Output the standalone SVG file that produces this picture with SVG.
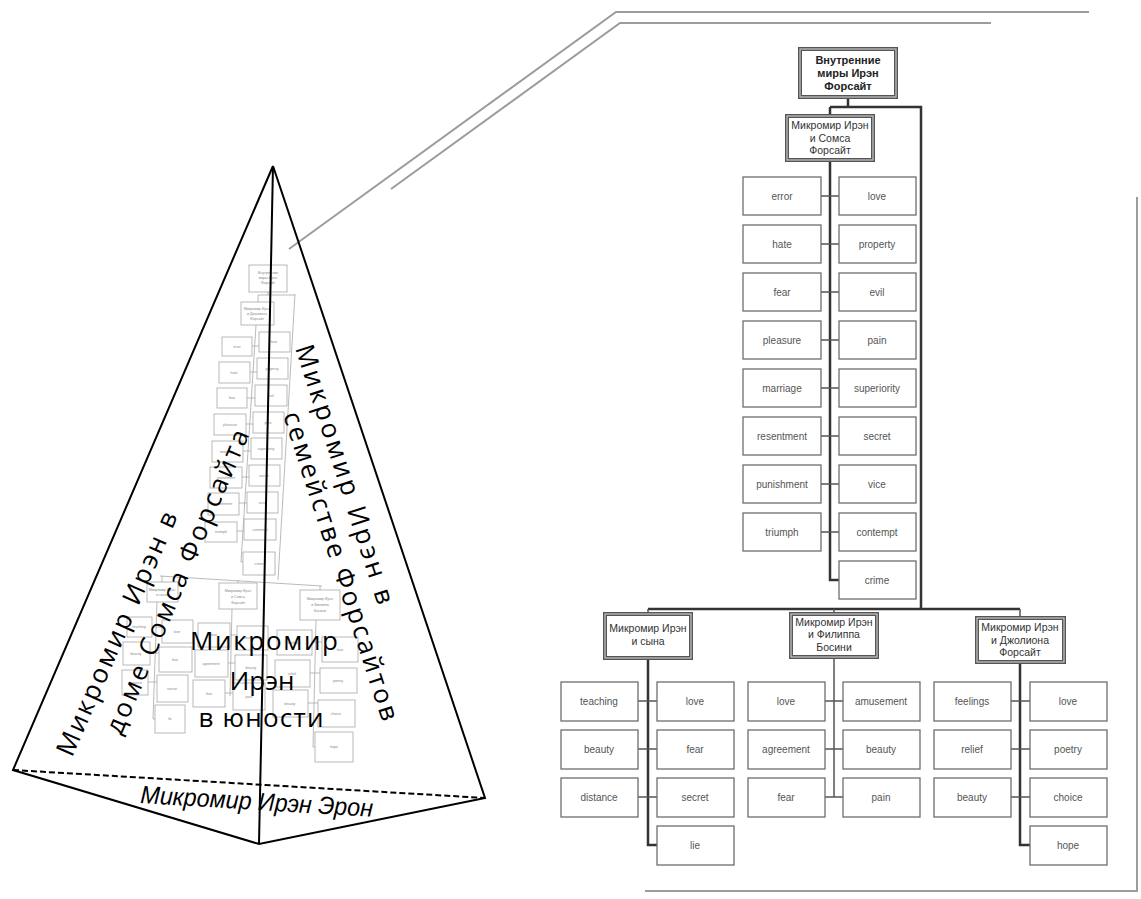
<svg xmlns="http://www.w3.org/2000/svg" width="1141" height="899" viewBox="0 0 1141 899">
<style>
.leaf rect{fill:#fff;stroke:#6e6e6e;stroke-width:1.3}
.leaf text{font-family:"Liberation Sans",Arial,sans-serif;font-size:10px;fill:#555;text-anchor:middle}
.hdr .o{fill:#fff;stroke:#555;stroke-width:4}
.hdr .i{fill:none;stroke:#c8c8c8;stroke-width:1.2}
.hdr text{font-family:"Liberation Sans",Arial,sans-serif;font-size:10.5px;fill:#333;text-anchor:middle}
.root text{font-weight:bold;font-size:11px;fill:#222}
.conn{fill:none;stroke:#555;stroke-width:1.5}
.trunk{fill:none;stroke:#333;stroke-width:2.5}
.guide{fill:none;stroke:#9c9c9c;stroke-width:2}
.edge{fill:none;stroke:#000;stroke-width:2}
.mini rect{fill:#fff;stroke:#a8a8a8;stroke-width:0.8}
.mini text{font-family:"Liberation Sans",Arial,sans-serif;font-size:3.6px;fill:#888;text-anchor:middle}
.minic{fill:none;stroke:#a8a8a8;stroke-width:0.8}
.pt{font-family:"Open Sans","Noto Sans",sans-serif;font-size:26px;fill:#000}
</style>
<rect width="1141" height="899" fill="#fff"/>

<!-- guide lines -->
<g id="guides">
<polyline class="guide" points="289,249 616,12 1089,12"/>
<polyline class="guide" points="391,189 620,23 991,23"/>
<polyline class="guide" points="1137,197 1137,891 645,891"/>
</g>

<!-- miniature tree inside pyramid -->
<g id="mini-tree" class="mini">
<g class="minic">
<path d="M268,292V295M258,295H295M258,295V302M256,325L241,562H243M295,294L278,580"/>
<path d="M252,346H259M250,372H257M247,398H255M246,424H253M243,451H251M242,477H249M239,503H247M237,531H244"/>
<path d="M160,576L322,586M162,576V582M238,580V583M320,586V590"/>
<path d="M157,602L153,719H155M152,627H162M150,653H159M148,682H157"/>
<path d="M232,609L230,696M230,635H237M228,663H235M225,693H233"/>
<path d="M316,620L313,747H315M312,642H322M310,673H320M308,703H318"/>
</g>
<g id="mini-root"><rect x="249" y="265" width="38" height="27"/><text x="268" y="274">Внутренние</text><text x="268" y="279">миры Ирэн</text><text x="268" y="284">Форсайт</text></g>
<g id="mini-sub"><rect x="241" y="302" width="33" height="23"/><text x="257" y="310">Микромир Ирэн</text><text x="257" y="315">и Джолиона</text><text x="257" y="320">Форсайт</text></g>
<g id="mini-l0"><rect x="222" y="337" width="30" height="19"/><text x="237" y="348">error</text></g>
<g id="mini-l1"><rect x="219" y="362" width="31" height="21"/><text x="234" y="374">hate</text></g>
<g id="mini-l2"><rect x="217" y="388" width="30" height="20"/><text x="232" y="399">fear</text></g>
<g id="mini-l3"><rect x="214" y="414" width="32" height="21"/><text x="230" y="426">pleasure</text></g>
<g id="mini-l4"><rect x="212" y="441" width="31" height="21"/><text x="227" y="453">marriage</text></g>
<g id="mini-l5"><rect x="210" y="467" width="32" height="21"/><text x="226" y="479">resentment</text></g>
<g id="mini-l6"><rect x="208" y="493" width="31" height="22"/><text x="223" y="505">punishment</text></g>
<g id="mini-l7"><rect x="205" y="522" width="32" height="20"/><text x="221" y="533">triumph</text></g>
<g id="mini-r0"><rect x="259" y="332" width="31" height="20"/><text x="274" y="343">love</text></g>
<g id="mini-r1"><rect x="257" y="358" width="31" height="21"/><text x="272" y="370">property</text></g>
<g id="mini-r2"><rect x="255" y="385" width="32" height="21"/><text x="271" y="397">evil</text></g>
<g id="mini-r3"><rect x="253" y="412" width="31" height="21"/><text x="268" y="424">pain</text></g>
<g id="mini-r4"><rect x="251" y="438" width="31" height="21"/><text x="266" y="450">superiority</text></g>
<g id="mini-r5"><rect x="249" y="465" width="31" height="21"/><text x="264" y="477">secret</text></g>
<g id="mini-r6"><rect x="247" y="492" width="31" height="21"/><text x="262" y="504">vice</text></g>
<g id="mini-r7"><rect x="244" y="519" width="32" height="21"/><text x="260" y="531">contempt</text></g>
<g id="mini-r8"><rect x="243" y="552" width="32" height="23"/><text x="259" y="565">crime</text></g>
<g id="mini-g1"><rect x="147" y="582" width="31" height="20"/><text x="162" y="591">Микромир Ирэн</text><text x="162" y="596">и сына</text></g>
<g id="mini-g2"><rect x="219" y="583" width="38" height="26"/><text x="238" y="592">Микромир Ирэн</text><text x="238" y="598">и Сомса</text><text x="238" y="604">Форсайт</text></g>
<g id="mini-g3"><rect x="300" y="590" width="40" height="30"/><text x="320" y="600">Микромир Ирэн</text><text x="320" y="606">и Филиппа</text><text x="320" y="612">Босини</text></g>
<g id="mini-g1a"><rect x="127" y="617" width="25" height="20"/><text x="139" y="628">teaching</text></g>
<g id="mini-g1b"><rect x="123" y="642" width="27" height="23"/><text x="136" y="655">beauty</text></g>
<g id="mini-g1c"><rect x="122" y="670" width="26" height="25"/><text x="135" y="684">distance</text></g>
<g id="mini-g1d"><rect x="162" y="620" width="31" height="23"/><text x="177" y="633">love</text></g>
<g id="mini-g1e"><rect x="159" y="647" width="33" height="25"/><text x="175" y="661">fear</text></g>
<g id="mini-g1f"><rect x="157" y="675" width="31" height="27"/><text x="172" y="690">secret</text></g>
<g id="mini-g1g"><rect x="155" y="705" width="30" height="28"/><text x="170" y="720">lie</text></g>
<g id="mini-g2a"><rect x="198" y="623" width="32" height="24"/><text x="214" y="636">love</text></g>
<g id="mini-g2b"><rect x="195" y="650" width="33" height="27"/><text x="211" y="665">agreement</text></g>
<g id="mini-g2c"><rect x="193" y="680" width="32" height="27"/><text x="209" y="695">fear</text></g>
<g id="mini-g2d"><rect x="237" y="626" width="31" height="24"/><text x="252" y="639">amusement</text></g>
<g id="mini-g2e"><rect x="235" y="655" width="32" height="25"/><text x="251" y="669">beauty</text></g>
<g id="mini-g2f"><rect x="233" y="683" width="32" height="27"/><text x="249" y="698">pain</text></g>
<g id="mini-g3a"><rect x="277" y="630" width="35" height="25"/><text x="294" y="644">feelings</text></g>
<g id="mini-g3b"><rect x="275" y="660" width="35" height="27"/><text x="292" y="675">relief</text></g>
<g id="mini-g3c"><rect x="273" y="690" width="35" height="27"/><text x="290" y="705">beauty</text></g>
<g id="mini-g3d"><rect x="322" y="637" width="36" height="25"/><text x="340" y="651">love</text></g>
<g id="mini-g3e"><rect x="320" y="668" width="37" height="25"/><text x="338" y="682">poetry</text></g>
<g id="mini-g3f"><rect x="318" y="700" width="37" height="27"/><text x="336" y="715">choice</text></g>
<g id="mini-g3g"><rect x="315" y="732" width="38" height="30"/><text x="334" y="748">hope</text></g>
</g>

<!-- pyramid -->
<g id="pyramid">
<path class="edge" d="M273,166L13,770L259,844L485,798L273,166"/>
<path class="edge" d="M273,166L259,844" stroke-width="2.6"/>
<path class="edge" d="M13,770L485,798" stroke-dasharray="6,3"/>
</g>
<g id="pyramid-labels">
<text class="pt" transform="translate(72,758) rotate(-66.3)" textLength="264">Микромир Ирэн в</text>
<text class="pt" transform="translate(121,736) rotate(-66.9)" textLength="328">доме Сомса Форсайта</text>
<text class="pt" transform="translate(295,348) rotate(72.2)" textLength="271">Микромир Ирэн в</text>
<text class="pt" transform="translate(283,415) rotate(72.1)" textLength="323">семействе Форсайтов</text>
<text class="pt" x="264" y="650" text-anchor="middle" textLength="148">Микромир</text>
<text class="pt" x="262" y="690" text-anchor="middle" textLength="65">Ирэн</text>
<text class="pt" x="261" y="727" text-anchor="middle" textLength="125">в юности</text>
<text transform="translate(140,803) rotate(3.4)" font-family="Liberation Sans, Arial, sans-serif" font-style="italic" font-size="25" textLength="233" lengthAdjust="spacingAndGlyphs">Микромир Ирэн Эрон</text>
</g>

<!-- connectors of the main tree -->
<g id="connectors">
<path class="trunk" d="M848,97V107M830,107H921V609M648,609H1020"/>
<path class="trunk" stroke-width="2" d="M830,107V116M830,160V580H839"/>
<path class="conn" d="M821,196H839M821,244H839M821,292H839M821,340H839M821,388H839M821,436H839M821,484H839M821,532H839"/>
<path class="conn" d="M648,609V614M834,609V614M1020,609V618"/>
<path class="trunk" stroke-width="2" d="M648,658V845H657"/>
<path class="conn" d="M834,657V797"/>
<path class="trunk" stroke-width="2" d="M1020,662V845H1030"/>
<path class="conn" d="M638,701H657M638,749H657M638,797H657M825,701H843M825,749H843M825,797H843M1011,701H1030M1011,749H1030M1011,797H1030"/>
</g>

<!-- main tree nodes -->
<g id="root" class="hdr root"><rect class="o" x="800" y="49" width="96" height="48"/><rect class="i" x="800" y="49" width="96" height="48"/><text x="848" y="64">Внутренние</text><text x="848" y="77">миры Ирэн</text><text x="848" y="90">Форсайт</text></g>
<g id="somsa" class="hdr"><rect class="o" x="787" y="116" width="86" height="44" stroke-width="3.5"/><rect class="i" x="787" y="116" width="86" height="44"/><text x="830" y="129">Микромир Ирэн</text><text x="830" y="142">и Сомса</text><text x="830" y="154">Форсайт</text></g>

<g id="n-error" class="leaf"><rect x="743" y="177" width="78" height="38"/><text x="782" y="200">error</text></g>
<g id="n-hate" class="leaf"><rect x="743" y="225" width="78" height="38"/><text x="782" y="248">hate</text></g>
<g id="n-fear" class="leaf"><rect x="743" y="273" width="78" height="38"/><text x="782" y="296">fear</text></g>
<g id="n-pleasure" class="leaf"><rect x="743" y="321" width="78" height="38"/><text x="782" y="344">pleasure</text></g>
<g id="n-marriage" class="leaf"><rect x="743" y="369" width="78" height="38"/><text x="782" y="392">marriage</text></g>
<g id="n-resentment" class="leaf"><rect x="743" y="417" width="78" height="38"/><text x="782" y="440">resentment</text></g>
<g id="n-punishment" class="leaf"><rect x="743" y="465" width="78" height="38"/><text x="782" y="488">punishment</text></g>
<g id="n-triumph" class="leaf"><rect x="743" y="513" width="78" height="38"/><text x="782" y="536">triumph</text></g>
<g id="n-love" class="leaf"><rect x="839" y="177" width="77" height="38"/><text x="877" y="200">love</text></g>
<g id="n-property" class="leaf"><rect x="839" y="225" width="77" height="38"/><text x="877" y="248">property</text></g>
<g id="n-evil" class="leaf"><rect x="839" y="273" width="77" height="38"/><text x="877" y="296">evil</text></g>
<g id="n-pain" class="leaf"><rect x="839" y="321" width="77" height="38"/><text x="877" y="344">pain</text></g>
<g id="n-superiority" class="leaf"><rect x="839" y="369" width="77" height="38"/><text x="877" y="392">superiority</text></g>
<g id="n-secret" class="leaf"><rect x="839" y="417" width="77" height="38"/><text x="877" y="440">secret</text></g>
<g id="n-vice" class="leaf"><rect x="839" y="465" width="77" height="38"/><text x="877" y="488">vice</text></g>
<g id="n-contempt" class="leaf"><rect x="839" y="513" width="77" height="38"/><text x="877" y="536">contempt</text></g>
<g id="n-crime" class="leaf"><rect x="839" y="561" width="77" height="38"/><text x="877" y="584">crime</text></g>

<g id="g-son" class="hdr"><rect class="o" x="605" y="614" width="86" height="44" stroke-width="3.5"/><rect class="i" x="605" y="614" width="86" height="44"/><text x="648" y="632">Микромир Ирэн</text><text x="648" y="645">и сына</text></g>
<g id="g-bosinney" class="hdr"><rect class="o" x="791" y="614" width="86" height="43" stroke-width="3.5"/><rect class="i" x="791" y="614" width="86" height="43"/><text x="834" y="626">Микромир Ирэн</text><text x="834" y="638">и Филиппа</text><text x="834" y="651">Босини</text></g>
<g id="g-jolyon" class="hdr"><rect class="o" x="977" y="618" width="87" height="44" stroke-width="3.5"/><rect class="i" x="977" y="618" width="87" height="44"/><text x="1020" y="631">Микромир Ирэн</text><text x="1020" y="644">и Джолиона</text><text x="1020" y="656">Форсайт</text></g>

<g id="s-teaching" class="leaf"><rect x="561" y="682" width="77" height="39"/><text x="599" y="705">teaching</text></g>
<g id="s-beauty" class="leaf"><rect x="561" y="730" width="77" height="39"/><text x="599" y="753">beauty</text></g>
<g id="s-distance" class="leaf"><rect x="561" y="778" width="77" height="39"/><text x="599" y="801">distance</text></g>
<g id="s-love" class="leaf"><rect x="657" y="682" width="77" height="39"/><text x="695" y="705">love</text></g>
<g id="s-fear" class="leaf"><rect x="657" y="730" width="77" height="39"/><text x="695" y="753">fear</text></g>
<g id="s-secret" class="leaf"><rect x="657" y="778" width="77" height="39"/><text x="695" y="801">secret</text></g>
<g id="s-lie" class="leaf"><rect x="657" y="826" width="77" height="39"/><text x="695" y="849">lie</text></g>

<g id="b-love" class="leaf"><rect x="748" y="682" width="77" height="39"/><text x="786" y="705">love</text></g>
<g id="b-agreement" class="leaf"><rect x="748" y="730" width="77" height="39"/><text x="786" y="753">agreement</text></g>
<g id="b-fear" class="leaf"><rect x="748" y="778" width="77" height="39"/><text x="786" y="801">fear</text></g>
<g id="b-amusement" class="leaf"><rect x="843" y="682" width="77" height="39"/><text x="881" y="705">amusement</text></g>
<g id="b-beauty" class="leaf"><rect x="843" y="730" width="77" height="39"/><text x="881" y="753">beauty</text></g>
<g id="b-pain" class="leaf"><rect x="843" y="778" width="77" height="39"/><text x="881" y="801">pain</text></g>

<g id="j-feelings" class="leaf"><rect x="934" y="682" width="77" height="39"/><text x="972" y="705">feelings</text></g>
<g id="j-relief" class="leaf"><rect x="934" y="730" width="77" height="39"/><text x="972" y="753">relief</text></g>
<g id="j-beauty" class="leaf"><rect x="934" y="778" width="77" height="39"/><text x="972" y="801">beauty</text></g>
<g id="j-love" class="leaf"><rect x="1030" y="682" width="77" height="39"/><text x="1068" y="705">love</text></g>
<g id="j-poetry" class="leaf"><rect x="1030" y="730" width="77" height="39"/><text x="1068" y="753">poetry</text></g>
<g id="j-choice" class="leaf"><rect x="1030" y="778" width="77" height="39"/><text x="1068" y="801">choice</text></g>
<g id="j-hope" class="leaf"><rect x="1030" y="826" width="77" height="39"/><text x="1068" y="849">hope</text></g>
</svg>
